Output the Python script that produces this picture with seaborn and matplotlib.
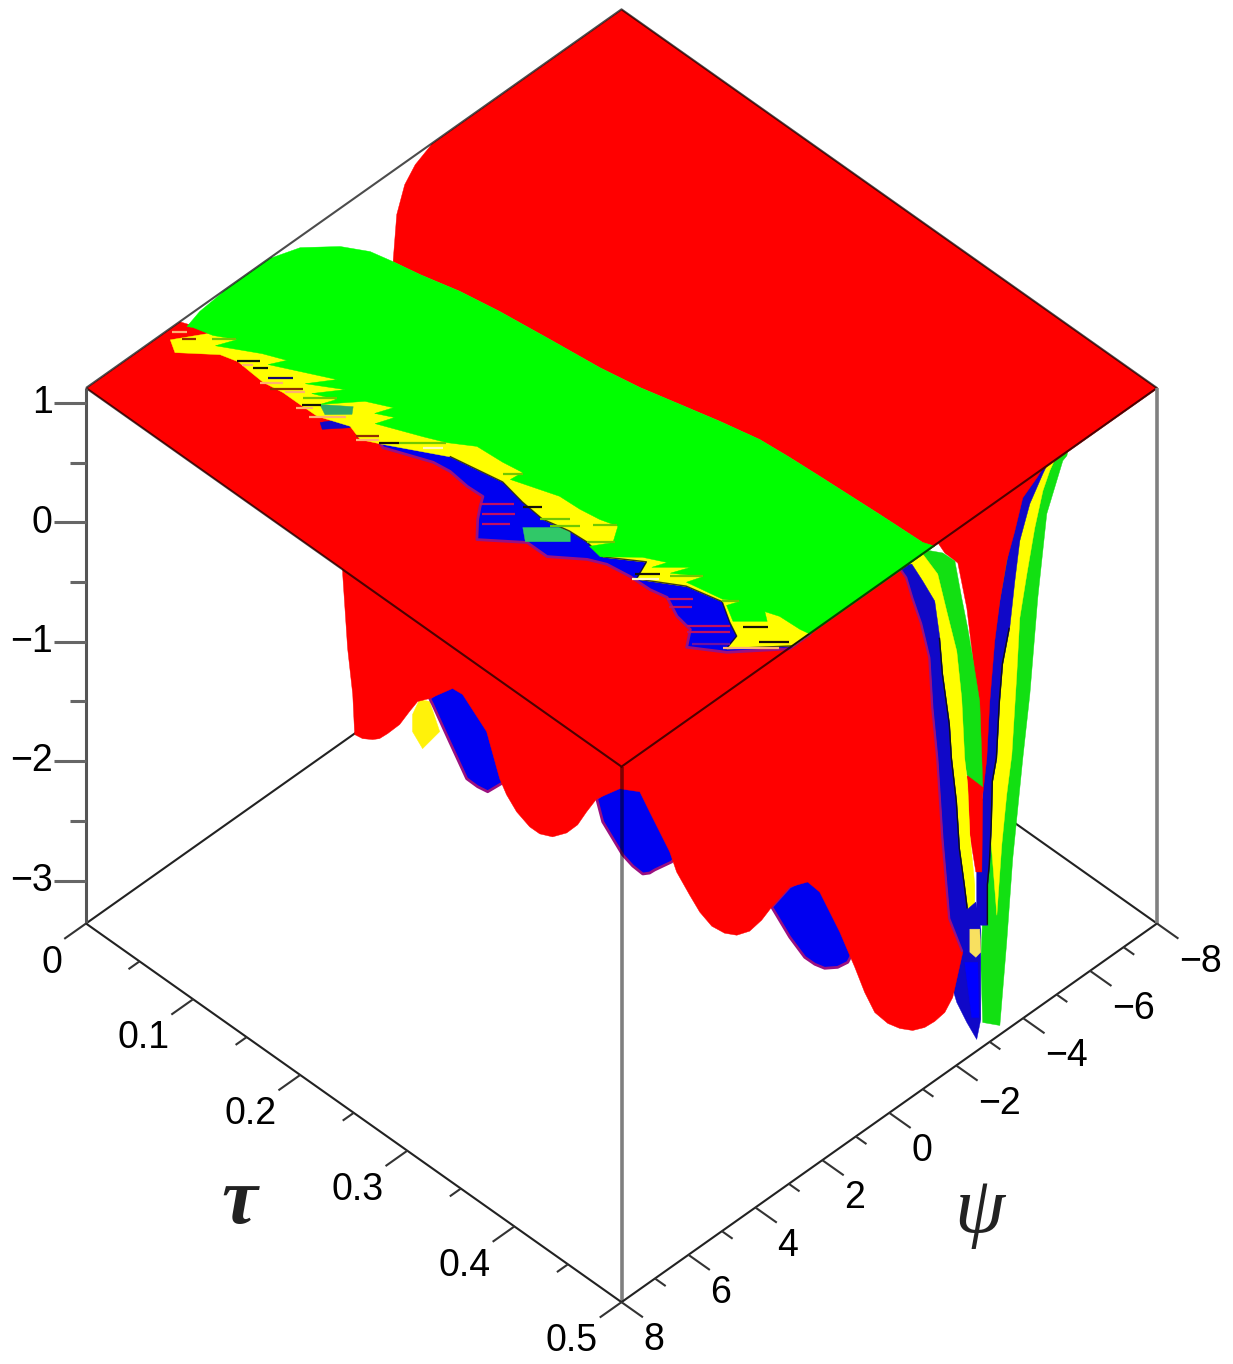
import numpy as np
import seaborn as sns
import matplotlib.pyplot as plt
from mpl_toolkits.mplot3d import proj3d
from mpl_toolkits.mplot3d.art3d import Poly3DCollection

# axis ranges and ticks
PSI_RANGE = (-8, 8)
TAU_RANGE = (0, 0.5)
Z_RANGE = (-3.36, 1.126)
tau_major = [0, 0.1, 0.2, 0.3, 0.4, 0.5]
tau_minor = [0.05, 0.15, 0.25, 0.35, 0.45]
psi_major = [-8, -6, -4, -2, 0, 2, 4, 6, 8]
psi_minor = [-7, -5, -3, -1, 1, 3, 5, 7]
z_major = [1, 0, -1, -2, -3]
z_minor = [0.5, -0.5, -1.5, -2.5]

# flat top of the surface: green sheet upper rim
rim_psi = [5.19, 4.68, 3.87, 3.25, 2.49, 1.83, 1.21, 0.87, 0.74, 0.61, 0.37, 0.20, 0.04, -0.11, -0.29, -0.53, -0.77, -0.98, -1.05, -1.10, -1.19, -1.24, -1.34]
rim_tau = [0.006, 0.002, 0.0, 0.0, 0.0, 0.0068, 0.0247, 0.042, 0.0594, 0.0805, 0.110, 0.142, 0.184, 0.226, 0.2578, 0.2875, 0.3175, 0.348, 0.374, 0.4005, 0.454, 0.492, 0.5]
# white notch between back plate and rim
notch_psi = [-0.31, -1.06, -1.64, -2.31]
notch_tau = [0.030, 0.014, 0.0057, 0.0]

# jagged green / yellow border
green_low_psi = [5.12, 4.99, 4.72, 5.17, 4.64, 4.41, 4.78, 4.07, 4.63, 4.16, 4.74, 4.50, 4.85, 4.11, 3.82, 4.22, 4.01, 4.43, 3.99, 3.76, 3.39, 3.34, 3.26, 3.59, 3.21, 3.18, 3.10, 2.97, 3.39, 3.82, 3.88, 3.26, 3.00, 3.33, 2.76, 3.18, 2.76, 3.13, 2.95, 2.74, 3.02, 3.26, 2.75, 2.58, 2.46, 2.43, 2.38]
green_low_tau = [0.0095, 0.024, 0.038, 0.032, 0.059, 0.075, 0.069, 0.111, 0.099, 0.1215, 0.1085, 0.124, 0.1195, 0.1385, 0.156, 0.151, 0.163, 0.158, 0.189, 0.204, 0.2205, 0.243, 0.259, 0.258, 0.292, 0.310, 0.326, 0.339, 0.3475, 0.339, 0.351, 0.371, 0.386, 0.382, 0.400, 0.3945, 0.412, 0.408, 0.436, 0.4455, 0.442, 0.4555, 0.4715, 0.464, 0.474, 0.492, 0.5]
# yellow lower border
yellow_low_psi = [5.72, 5.92, 5.29, 5.17, 5.20, 5.23, 5.15, 5.15, 5.14, 4.86, 4.99, 4.75, 4.01, 3.82, 3.76, 3.89, 3.95, 3.80, 3.77, 3.85, 3.30, 3.81, 3.22, 3.01, 3.33, 3.52, 3.94, 2.97, 2.90, 2.38]
yellow_low_tau = [0.007, 0.0176, 0.040, 0.053, 0.065, 0.0785, 0.0945, 0.1075, 0.126, 0.148, 0.1615, 0.1755, 0.215, 0.2465, 0.2565, 0.279, 0.2996, 0.320, 0.3354, 0.3526, 0.3764, 0.383, 0.411, 0.438, 0.455, 0.4675, 0.471, 0.498, 0.5, 0.5]
# blue lower border
blue_low_psi = [4.82, 4.38, 4.32, 4.38, 4.36, 4.61, 4.92, 5.36, 4.67, 4.67, 4.13, 3.94, 3.85, 3.83, 3.74, 3.99, 4.07, 4.50, 4.01, 3.00, 2.38]
blue_low_tau = [0.1775, 0.2105, 0.2245, 0.2425, 0.2564, 0.2616, 0.269, 0.282, 0.3074, 0.326, 0.3466, 0.359, 0.378, 0.396, 0.409, 0.426, 0.441, 0.451, 0.473, 0.5, 0.5]
# points inside the green sheet, where the bands are hidden anyway
inner_psi = [2.0, 1.5, 3.5]
inner_tau = [0.45, 0.25, 0.05]
teal_psi = [4.42, 3.71, 4.01, 4.68]
teal_tau = [0.2955, 0.3175, 0.327, 0.306]
teal2_psi = [4.85, 4.40, 4.58, 4.99]
teal2_tau = [0.1195, 0.1365, 0.141, 0.1286]
navy_psi = [5.23, 4.65, 4.89, 5.34]
navy_tau = [0.1315, 0.143, 0.149, 0.137]

# thin colour streaks of the coarse mesh along the band
streak_psi = [5.54, 5.53, 5.08, 5.17, 5.19, 5.09, 5.08, 5.30, 5.28, 5.12, 4.98, 5.13, 5.28, 5.28, 4.98, 5.06, 4.78, 4.48, 4.24, 3.59, 3.99, 3.99, 3.99, 4.57, 4.75, 4.96, 3.33, 3.77, 3.73, 3.87, 3.25, 2.99, 3.78, 3.91, 4.05, 4.18, 4.35, 3.24, 3.98, 3.30]
streak_tau = [0.003, 0.0128, 0.0268, 0.053, 0.0575, 0.0646, 0.0783, 0.0778, 0.0865, 0.0955, 0.1078, 0.1124, 0.1115, 0.1236, 0.158, 0.1605, 0.1733, 0.1826, 0.1968, 0.2513, 0.2823, 0.2983, 0.3075, 0.2603, 0.268, 0.2745, 0.327, 0.3354, 0.3788, 0.3811, 0.3964, 0.4377, 0.4103, 0.4169, 0.4374, 0.4414, 0.4522, 0.4643, 0.4687, 0.4819]
streak_span = [0.007, 0.0065, 0.0112, 0.0103, 0.0051, 0.007, 0.0117, 0.0107, 0.0154, 0.0093, 0.0159, 0.0089, 0.0075, 0.0173, 0.0107, 0.0107, 0.0093, 0.0219, 0.0093, 0.0093, 0.0093, 0.014, 0.014, 0.0163, 0.0154, 0.0131, 0.0112, 0.0131, 0.0117, 0.0126, 0.0154, 0.0079, 0.0121, 0.0107, 0.0201, 0.0201, 0.0173, 0.0117, 0.0266, 0.014]
streak_kind = ['salmon', 'brown', 'olive', 'black', 'salmon', 'black', 'navy', 'salmon', 'brown', 'salmon', 'olive', 'black', 'salmon', 'salmon', 'brown', 'salmon', 'black', 'olive', 'pale', 'olive', 'black', 'olive', 'olive', 'crimson', 'crimson', 'crimson', 'olive', 'olive', 'black', 'pale', 'olive', 'olive', 'crimson', 'crimson', 'crimson', 'crimson', 'purple', 'black', 'salmon', 'black']

# hanging part, read along the diagonal section psi = 8 - 32 tau
curtain_tau = [0.1196, 0.1196, 0.1219, 0.1243, 0.1252, 0.1289, 0.1336, 0.1368, 0.1406, 0.1462, 0.1508, 0.1546, 0.1602, 0.1709, 0.1756, 0.1868, 0.1929, 0.1961, 0.2008, 0.2069, 0.2116, 0.2176, 0.2242, 0.2293, 0.2335, 0.2382, 0.2489, 0.2583, 0.2629, 0.2676, 0.2723, 0.2755, 0.2816, 0.2863, 0.2919, 0.2979, 0.3036, 0.3096, 0.3152, 0.3199, 0.3283, 0.3367, 0.3423, 0.3517, 0.3587, 0.3633, 0.3680, 0.3741, 0.3797, 0.3857, 0.3913, 0.3960, 0.4007, 0.4044, 0.4091, 0.4030, 0.3998, 0.3974, 0.3951, 0.3937, 0.3899, 0.3857, 0.3829, 0.3773]
curtain_z = [-0.319, -0.429, -1.05, -1.437, -1.773, -1.807, -1.815, -1.807, -1.765, -1.689, -1.58, -1.496, -1.471, -1.387, -1.437, -1.748, -2.143, -2.277, -2.42, -2.546, -2.605, -2.63, -2.597, -2.529, -2.42, -2.311, -2.227, -2.252, -2.42, -2.588, -2.756, -2.924, -3.118, -3.26, -3.378, -3.437, -3.454, -3.42, -3.328, -3.218, -3.05, -3.008, -3.092, -3.428, -3.723, -3.933, -4.101, -4.193, -4.235, -4.252, -4.227, -4.176, -4.101, -3.975, -3.596, -3.319, -2.647, -1.975, -1.555, -1.134, -0.849, -0.63, -0.462, -0.319]
lobe1_tau = [0.1602, 0.1709, 0.1929, 0.1952, 0.1873, 0.1826, 0.1775, 0.1695, 0.1616]
lobe1_z = [-1.471, -1.328, -1.496, -2.168, -2.252, -2.21, -2.143, -1.832, -1.521]
lobe_y_tau = [0.1522, 0.1555, 0.1602, 0.1649, 0.1569, 0.1522]
lobe_y_z = [-1.605, -1.479, -1.496, -1.748, -1.891, -1.748]
lobe2_tau = [0.2382, 0.2410, 0.2503, 0.2550, 0.2597, 0.2629, 0.2653, 0.2732, 0.2769, 0.2676, 0.2489]
lobe2_z = [-2.311, -2.504, -2.781, -2.874, -2.941, -2.933, -2.907, -2.84, -2.756, -2.252, -2.168]
lobe3_tau = [0.3199, 0.3283, 0.3353, 0.3400, 0.3446, 0.3507, 0.3554, 0.3591, 0.3563, 0.3376, 0.3283]
lobe3_z = [-3.218, -3.47, -3.639, -3.697, -3.731, -3.723, -3.681, -3.554, -3.176, -2.966, -3.05]

# the deep trough, right wall then left wall
green_r_tau = [0.4591, 0.4577, 0.4558, 0.4483, 0.4441, 0.4404, 0.4371, 0.4324, 0.4296, 0.4264, 0.4184, 0.4175, 0.4194, 0.4194, 0.4264]
green_r_z = [0.689, 0.563, 0.521, 0.076, -0.63, -1.437, -1.975, -2.815, -3.512, -4.21, -4.185, -3.681, -2.84, -0.655, 0.353]
yellow_r_tau = [0.4544, 0.4497, 0.4465, 0.4427, 0.4390, 0.4357, 0.4343, 0.4320, 0.4296, 0.4273, 0.4250, 0.4217, 0.4217, 0.4310, 0.4404]
yellow_r_z = [0.622, 0.437, 0.269, -0.042, -0.429, -0.798, -1.269, -1.941, -2.277, -2.697, -3.286, -2.529, -1.496, -0.655, 0.353]
blue_r_tau = [0.4521, 0.4465, 0.4404, 0.4357, 0.4334, 0.4310, 0.4278, 0.4264, 0.4250, 0.4231, 0.4226, 0.4217, 0.4208, 0.4208, 0.4156, 0.4156, 0.4184, 0.4194, 0.4264, 0.4357]
blue_r_z = [0.622, 0.412, 0.16, -0.151, -0.487, -0.882, -1.185, -1.496, -1.975, -2.168, -2.529, -2.865, -3.033, -3.37, -3.37, -2.865, -2.277, -1.496, -0.655, 0.269]
core_tau = [0.3937, 0.4007, 0.4068, 0.4110, 0.4138, 0.4156, 0.4161, 0.4110, 0.4124, 0.4152, 0.4180, 0.4184, 0.4203, 0.4217, 0.4240, 0.4264, 0.4296, 0.4334, 0.4371, 0.4437, 0.4544]
core_z = [-0.067, -0.252, -0.336, -0.714, -1.134, -1.496, -1.975, -2.126, -2.613, -2.924, -2.924, -2.277, -1.975, -1.496, -0.992, -0.655, -0.319, -0.067, 0.21, 0.378, 0.689]
green_l_tau = [0.3890, 0.3998, 0.4054, 0.4086, 0.4114, 0.4138, 0.4170, 0.4180, 0.4184, 0.4110, 0.4054, 0.3937]
green_l_z = [-0.218, -0.252, -0.319, -0.63, -0.882, -1.134, -1.496, -1.975, -2.21, -2.109, -1.496, -0.487]
yellow_l_tau = [0.3820, 0.3904, 0.3974, 0.4016, 0.4063, 0.4086, 0.4100, 0.4114, 0.4124, 0.4147, 0.4147, 0.4114, 0.4077, 0.4040, 0.3984]
yellow_l_z = [-0.361, -0.261, -0.429, -0.739, -1.076, -1.471, -1.975, -2.193, -2.613, -3.033, -3.202, -3.235, -2.731, -1.975, -0.992]
blue_l_tau = [0.3773, 0.3853, 0.3904, 0.3960, 0.3984, 0.3998, 0.4030, 0.4040, 0.4063, 0.4077, 0.4100, 0.4114, 0.4152, 0.4175, 0.4175, 0.4175, 0.4156, 0.4110, 0.4063, 0.4007, 0.3937]
blue_l_z = [-0.361, -0.345, -0.487, -0.655, -0.966, -1.269, -1.689, -1.975, -2.336, -2.731, -3.033, -3.235, -3.176, -3.403, -3.622, -4.159, -4.327, -4.185, -4.017, -3.681, -1.496]
spike_tau = [0.4100, 0.4161, 0.4166, 0.4133]
spike_z = [-3.681, -3.681, -4.143, -4.143]
tip_tau = [0.4124, 0.4170, 0.4175, 0.4152, 0.4124]
tip_z = [-3.403, -3.403, -3.596, -3.639, -3.596]

RED = '#ff0000'
GREEN = '#00ff00'
TROUGH_GREEN = '#12e012'
YELLOW = '#ffff00'
BLUE = '#0000f0'
NAVY = '#1008c8'
FRINGE = '#9a1080'
LINE = '#222222'
STREAK = {'salmon': '#ffb070', 'brown': '#903000', 'olive': '#70c800', 'black': '#141008',
          'navy': '#14086a', 'pale': '#fff8c0', 'crimson': '#c01060', 'purple': '#7010a0'}


def section(tau, z):
    tau = np.array(tau)
    return 8 - 32 * tau, tau, np.array(z)


def flat(psi, tau):
    return np.array(psi), np.array(tau), np.full(len(psi), Z_RANGE[1])


sns.set_theme(style='white')
fig = plt.figure(figsize=(12.33, 13.64), dpi=100)
ax = fig.add_axes([0.05, 0.05, 0.8, 0.8 * 1233 / 1364], projection='3d', computed_zorder=False)
ax.set_proj_type('ortho')
ax.view_init(elev=45, azim=45)
ax.set_box_aspect((1, 1, 1))
ax.set_xlim(*PSI_RANGE)
ax.set_ylim(*TAU_RANGE)
ax.set_zlim(*Z_RANGE)
ax.set_xticks([])
ax.set_yticks([])
ax.set_zticks([])
ax.set_axis_off()

layer = [10]


def add_poly(pts, color, edge=None, lw=0):
    verts = [list(zip(*pts))]
    poly = Poly3DCollection(verts, facecolor=color, edgecolor=edge if edge else color, linewidth=lw if edge else 0.3, zorder=layer[0])
    ax.add_collection3d(poly, autolim=False)
    poly.set_clip_on(False)
    layer[0] += 1


def add_line(xs, ys, zs, color=LINE, lw=1.5, alpha=1.0, z=None):
    ax.plot(xs, ys, zs, color=color, lw=lw, alpha=alpha, zorder=layer[0] if z is None else z, clip_on=False, solid_capstyle='butt')


def add_label(x, y, z, s, **kw):
    xs, ys, _ = proj3d.proj_transform(x, y, z, ax.get_proj())
    ax.text2D(xs, ys, s, transform=ax.transData, **kw)


zb, zt = Z_RANGE
# box lines behind the surface
add_line([8, -8], [0, 0], [zb, zb], z=1)
add_line([-8, -8], [0, 0.5], [zb, zb], z=1)

# things hanging furthest back
add_poly(section(lobe_y_tau, lobe_y_z), '#fff20a')
add_poly(section(lobe1_tau, lobe1_z), BLUE, FRINGE, 2)
add_poly(section(lobe2_tau, lobe2_z), BLUE, FRINGE, 2)
add_poly(section(lobe3_tau, lobe3_z), BLUE, FRINGE, 2)

# trough walls
add_poly(section(green_r_tau, green_r_z), TROUGH_GREEN)
add_poly(section(yellow_r_tau, yellow_r_z), YELLOW)
add_poly(section(blue_r_tau, blue_r_z), NAVY)
add_line(*section(blue_r_tau[5:14], blue_r_z[5:14]), color='#101010', lw=1.0)
layer[0] += 1
add_poly(section(core_tau, core_z), RED)
add_poly(section(green_l_tau, green_l_z), TROUGH_GREEN)
add_poly(section(yellow_l_tau, yellow_l_z), YELLOW)
add_poly(section(blue_l_tau, blue_l_z), NAVY)
add_line(*section(blue_l_tau[4:12], blue_l_z[4:12]), color='#101010', lw=1.0)
layer[0] += 1
add_poly(section(spike_tau, spike_z), '#0000ff')
add_poly(section(tip_tau, tip_z), '#f8e060')
add_poly(section(curtain_tau, curtain_z), RED)
add_line(*section(curtain_tau[-10:], curtain_z[-10:]), color=FRINGE, lw=1.6)
layer[0] += 1

# flat red plates
add_poly(flat([8, 5.19, -1.34, 8], [0, 0, 0.5, 0.5]), RED)
back_psi = [-8, -8] + rim_psi[8:][::-1] + notch_psi
back_tau = [0, 0.5] + rim_tau[8:][::-1] + notch_tau
add_poly(flat(back_psi, back_tau), RED)

# bands on the rim
add_poly(flat(blue_low_psi + inner_psi, blue_low_tau + inner_tau), BLUE, FRINGE, 2)
add_poly(flat(teal_psi, teal_tau), '#30c868')
add_poly(flat(navy_psi, navy_tau), NAVY)
add_poly(flat(yellow_low_psi + inner_psi, yellow_low_tau + inner_tau), YELLOW)
add_poly(flat(teal2_psi, teal2_tau), '#30a868')
add_line(*flat(yellow_low_psi[12:], yellow_low_tau[12:]), color='#101010', lw=1.0, alpha=0.8)
layer[0] += 1
add_poly(flat(rim_psi + green_low_psi[::-1], rim_tau + green_low_tau[::-1]), GREEN)

for p, t, s, k in zip(streak_psi, streak_tau, streak_span, streak_kind):
    add_line(*flat([p, p - 32 * s], [t, t + s]), color=STREAK[k], lw=1.6)
layer[0] += 1

# box lines on top of the surface
top = layer[0] + 1
add_line([8, 8, -8, -8, 8], [0, 0.5, 0.5, 0, 0], [zt] * 5, color='black', lw=1.5, alpha=0.7, z=top)
add_line([8, 8], [0, 0], [zt, zb], color='#555555', lw=2.2, z=top)
add_line([8, 8], [0.5, 0.5], [zt, zb], color='black', lw=2.6, alpha=0.5, z=top)
add_line([-8, -8], [0.5, 0.5], [zt, zb], color='#808080', lw=2.6, z=top)
add_line([8, 8], [0, 0.5], [zb, zb], z=top)
add_line([8, -8], [0.5, 0.5], [zb, zb], z=top)

# ticks
for v in tau_major:
    add_line([8, 8.65], [v, v], [zb, zb], color='#333333', z=top)
for v in tau_minor:
    add_line([8, 8.33], [v, v], [zb, zb], color='#333333', z=top)
for v in psi_major:
    add_line([v, v], [0.5, 0.52], [zb, zb], color='#333333', z=top)
for v in psi_minor:
    add_line([v, v], [0.5, 0.51], [zb, zb], color='#333333', z=top)
for v in z_major:
    add_line([8, 8.48], [0, -0.015], [v, v], color='#666666', lw=2.2, z=top)
for v in z_minor:
    add_line([8, 8.24], [0, -0.0075], [v, v], color='#666666', lw=2.2, z=top)

# labels
tick_font = {'family': 'Liberation Sans', 'fontsize': 27, 'color': 'black', 'va': 'center'}
for v in tau_major:
    add_label(8.7, v, zb - 0.19, '{:g}'.format(v), ha='right', zorder=top, **tick_font)
for v in psi_major:
    add_label(v, 0.5206, zb - 0.19, '{:g}'.format(v).replace('-', '\u2212'), ha='left', zorder=top, **tick_font)
for v in z_major:
    add_label(8.5, -0.0155, v, '{:g}'.format(v).replace('-', '\u2212'), ha='right', zorder=top, **tick_font)
add_label(11.62, 0.2565, zb, '\u03c4', family='Liberation Serif', style='italic', weight='bold', fontsize=58, ha='center', va='center', color='#222222', zorder=top)
add_label(0.77, 0.608, zb, '\u03c8', family='Liberation Serif', style='italic', fontsize=58, ha='center', va='center', color='#222222', zorder=top)


def pixel(x, y, z):
    xs, ys, _ = proj3d.proj_transform(x, y, z, ax.get_proj())
    px, py = ax.transData.transform((xs, ys))
    return px, 1364 - py


# fit the axes so that the box lands where the picture has it
side = 0.8 * 1233
left, bottom = 0.05 * 1233, 0.05 * 1364
for _ in range(3):
    ax.set_position([left / 1233, bottom / 1364, side / 1233, side / 1364])
    x0 = pixel(8, 0, zt)[0]
    x1 = pixel(-8, 0.5, zt)[0]
    side *= (1157 - 86) / (x1 - x0)
    ax.set_position([left / 1233, bottom / 1364, side / 1233, side / 1364])
    x0 = pixel(8, 0, zt)[0]
    y0 = pixel(8, 0, zt)[1]
    left += 86 - x0
    bottom += y0 - 388
ax.set_position([left / 1233, bottom / 1364, side / 1233, side / 1364])

fig.savefig('out.png', dpi=100, facecolor='white')
